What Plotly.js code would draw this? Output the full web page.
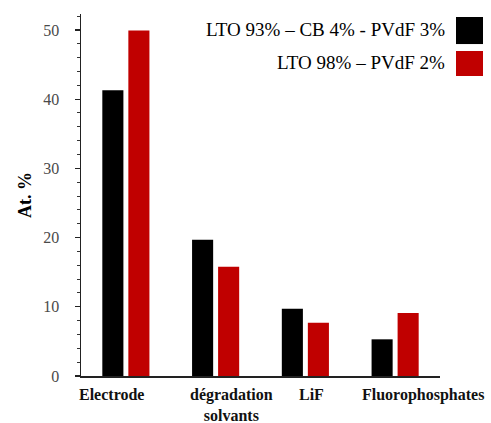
<!DOCTYPE html>
<html>
<head>
<meta charset="utf-8">
<script src="https://cdn.plot.ly/plotly-3.0.1.min.js"></script>
<style>html,body{margin:0;padding:0;background:#fff;}#chart{width:491px;height:423px;}</style>
</head>
<body>
<div id="chart"></div>
<script>
var categories = ["Electrode", "dégradation<br>solvants", "LiF", "Fluorophosphates"];
var seriesNames = ["LTO 93% – CB 4% - PVdF 3%", "LTO 98% – PVdF 2%"];
var seriesA = [41.3, 19.7, 9.7, 5.3];
var seriesB = [49.9, 15.8, 7.7, 9.1];
var yTicks = [0, 10, 20, 30, 40, 50];
var colors = ["#000000", "#c00000"];
var labelShift = [-14, 16, 6, 28];
var SERIF = "Liberation Serif";

var idx = categories.map(function(_, i){ return i; });
var traces = [seriesA, seriesB].map(function(vals, k){
  return {type: "bar", x: idx, y: vals, name: seriesNames[k],
    marker: {color: colors[k]}, showlegend: false, hoverinfo: "skip"};
});

var annotations = categories.map(function(c, i){
  return {x: i, y: 0, xref: "x", yref: "y", text: "<b>" + c + "</b>", showarrow: false,
    xanchor: "center", yanchor: "top", yshift: -8, xshift: labelShift[i], align: "center",
    font: {family: SERIF, size: 16, color: "#111"}};
});
var legY = [0.956, 0.865];
seriesNames.forEach(function(n, k){
  annotations.push({x: 1.019, y: legY[k], xref: "paper", yref: "paper", text: n, showarrow: false,
    xanchor: "right", yanchor: "middle", font: {family: SERIF, size: 19, color: "#000"}});
});
var legBoxes = [[0.9917, 0.917], [0.8978, 0.8287]];
var shapes = legBoxes.map(function(b, k){
  return {type: "rect", xref: "paper", yref: "paper", x0: 1.0446, x1: 1.1198, y0: b[1], y1: b[0],
    fillcolor: colors[k], line: {width: 0}};
});

var layout = {
  width: 491, height: 423,
  margin: {l: 81, r: 51, t: 14, b: 47},
  paper_bgcolor: "#fff", plot_bgcolor: "#fff",
  font: {family: SERIF},
  barmode: "group", bargap: 0.42, bargroupgap: 0.19,
  xaxis: {range: [-0.5, 3.5], showticklabels: false, ticks: "", showgrid: false, zeroline: false,
    showline: true, linecolor: "#222", linewidth: 1.5, fixedrange: true},
  yaxis: {range: [0, 52.3], tickvals: yTicks, ticks: "outside", ticklen: 5, tickwidth: 1.2, tickcolor: "#222",
    minor: {dtick: 2, ticks: "outside", ticklen: 3, tickcolor: "#333", tickwidth: 1},
    showgrid: false, zeroline: false, showline: true, linecolor: "#222", linewidth: 1.5,
    ticklabelstandoff: 12,
    tickfont: {family: SERIF, size: 16, color: "#4a4a4a"},
    title: {text: "<b>At. %</b>", font: {family: SERIF, size: 18, color: "#000"}, standoff: 7}},
  annotations: annotations,
  shapes: shapes
};
Plotly.newPlot("chart", traces, layout, {displayModeBar: false, staticPlot: true});
</script>
</body>
</html>
